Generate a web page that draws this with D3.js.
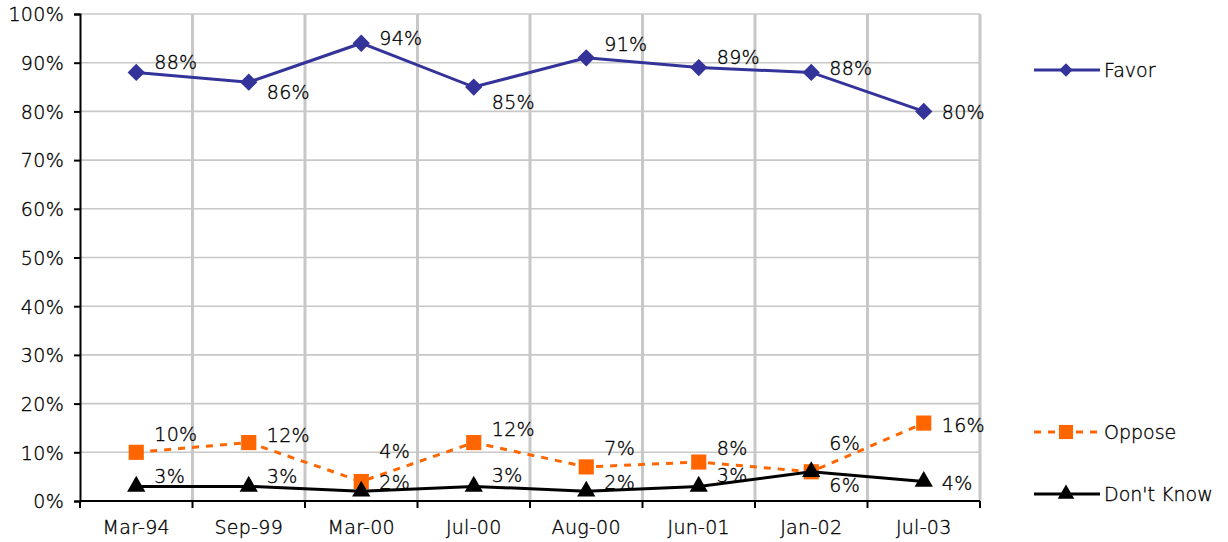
<!DOCTYPE html>
<html><head><meta charset="utf-8">
<script src="https://cdn.jsdelivr.net/npm/d3@7/dist/d3.min.js"></script>
<style>
html,body{margin:0;padding:0;background:#fff;}
svg text{font-family:"DejaVu Sans",Verdana,sans-serif;font-size:19px;font-weight:200;fill:#000;stroke:#000;stroke-width:0.35px;letter-spacing:0.3px;}
</style></head>
<body>
<svg id="chart" width="1228" height="542"></svg>
<script>
const categories = ["Mar-94","Sep-99","Mar-00","Jul-00","Aug-00","Jun-01","Jan-02","Jul-03"];
const favor = [88,86,94,85,91,89,88,80];
const oppose = [10,12,4,12,7,8,6,16];
const dontKnow = [3,3,2,3,2,3,6,4];
const yTicks = [0,10,20,30,40,50,60,70,80,90,100];

// label offsets (layout only)
const favorLabelDy = [-10,10,-5,15,-14,-10,-4,1];
const opposeLabelDy = [-18,-7,-30,-13,-19,-14,-29,2];
const dkLabelDy = [-10,-10,-9,-11,-9,-11,13,2];

const svg = d3.select("#chart");
const L=80,R=980,T=14,B=501;
const x = d3.scaleBand().domain(categories).range([L,R]);
const y = d3.scaleLinear().domain([0,100]).range([B,T]);
const cx = d => x(d)+x.bandwidth()/2;

// horizontal grid
svg.append("g").selectAll("line").data(yTicks.filter(t=>t>0)).join("line")
  .attr("x1",L).attr("x2",R).attr("y1",d=>y(d)).attr("y2",d=>y(d))
  .attr("stroke","#c8c8c8").attr("stroke-width",1.6);
// vertical grid at boundaries
const bounds = categories.slice(1).map(c=>x(c)).concat([R]);
svg.append("g").selectAll("line").data(bounds).join("line")
  .attr("x1",d=>d).attr("x2",d=>d).attr("y1",T).attr("y2",B)
  .attr("stroke","#c8c8c8").attr("stroke-width",3);

// y axis
const yAxis = d3.axisLeft(y).tickValues(yTicks).tickFormat(d=>d+"%").tickSize(6).tickPadding(10);
const gy = svg.append("g").attr("transform",`translate(${L},0)`).call(yAxis);
gy.select(".domain").attr("stroke","#000").attr("stroke-width",2);
gy.selectAll(".tick line").attr("stroke","#000").attr("stroke-width",2);
gy.selectAll(".tick text").attr("font-size",null).attr("font-family",null).attr("fill",null).attr("dy","0.36em");

// x axis
const gx = svg.append("g").attr("transform",`translate(0,${B})`)
  .call(d3.axisBottom(x).tickSize(0).tickPadding(20));
gx.select(".domain").attr("stroke","#000").attr("stroke-width",2).attr("d",`M${L},0H${R}`);
gx.selectAll(".tick text").attr("font-size",null).attr("font-family",null).attr("fill",null);
svg.append("g").selectAll("line").data([L].concat(bounds)).join("line")
  .attr("x1",d=>d).attr("x2",d=>d).attr("y1",B).attr("y2",B+7)
  .attr("stroke","#000").attr("stroke-width",2);

const diamond = {draw(ctx,size){const r=Math.sqrt(size/2);ctx.moveTo(0,-r);ctx.lineTo(r,0);ctx.lineTo(0,r);ctx.lineTo(-r,0);ctx.closePath();}};

const series = [
  {name:"Favor", values:favor, color:"#333399", dash:null, marker:diamond, size:150, lsize:90, dy:favorLabelDy, legendY:70},
  {name:"Oppose", values:oppose, color:"#FF6600", dash:"7,7", marker:d3.symbolSquare, size:230, lsize:200, dy:opposeLabelDy, legendY:432},
  {name:"Don't Know", values:dontKnow, color:"#000000", dash:null, marker:d3.symbolTriangle, size:145, lsize:120, dy:dkLabelDy, legendY:494}
];

const line = d3.line().x((d,i)=>cx(categories[i])).y(d=>y(d));
series.forEach(s=>{
  const g = svg.append("g");
  g.append("path").attr("d",line(s.values)).attr("fill","none").attr("stroke",s.color)
    .attr("stroke-width",3).attr("stroke-dasharray",s.dash);
  g.selectAll("path.m").data(s.values).join("path").attr("class","m")
    .attr("transform",(d,i)=>`translate(${cx(categories[i])},${y(d)})`)
    .attr("d",d3.symbol().type(s.marker).size(s.size)).attr("fill",s.color);
  g.selectAll("text").data(s.values).join("text")
    .attr("x",(d,i)=>cx(categories[i])+18).attr("y",(d,i)=>y(d)+s.dy[i])
    .attr("dy","0.36em").text(d=>d+"%");
  // legend
  const lg = svg.append("g").attr("transform",`translate(0,${s.legendY})`);
  lg.append("line").attr("x1",1034).attr("x2",1100).attr("y1",0).attr("y2",0)
    .attr("stroke",s.color).attr("stroke-width",3).attr("stroke-dasharray",s.dash);
  lg.append("path").attr("transform","translate(1066,0)")
    .attr("d",d3.symbol().type(s.marker).size(s.lsize)).attr("fill",s.color);
  lg.append("text").attr("x",1104).attr("y",0).attr("dy","0.36em")
    .style("letter-spacing","0px").text(s.name);
});
</script>
</body></html>
